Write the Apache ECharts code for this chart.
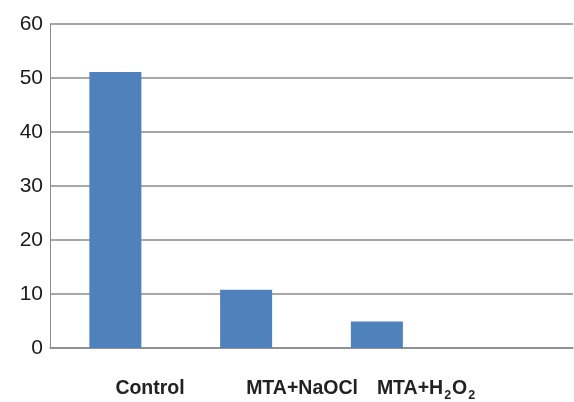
<!DOCTYPE html>
<html>
<head>
<meta charset="utf-8">
<script src="https://cdn.jsdelivr.net/npm/echarts@6/dist/echarts.min.js"></script>
<style>
html,body{margin:0;padding:0;background:#fff;}
#c{width:574px;height:402px;}
</style>
</head>
<body>
<div id="c"></div>
<script>
var categories = ['Control', 'MTA+NaOCl', 'MTA+H2O2', ''];
var values = [51.1, 10.8, 4.9, null];
var yTicks = [0, 10, 20, 30, 40, 50, 60];

var chart = echarts.init(document.getElementById('c'));
chart.setOption({
  animation: false,
  backgroundColor: '#ffffff',
  grid: { left: 50, right: 1, top: 24, bottom: 54, containLabel: false },
  xAxis: {
    type: 'category',
    data: categories,
    axisLine: { show: true, lineStyle: { color: '#8a8a8a', width: 1.5 } },
    axisTick: { show: false },
    splitLine: { show: false },
    axisLabel: {
      interval: 0,
      margin: 28,
      align: 'left',
      formatter: function (v) {
        if (v === 'MTA+H2O2') return '{b|MTA+H}{s|2}{b|O}{s|2}';
        return '{b|' + v + '}';
      },
      rich: {
        b: { fontFamily: 'Liberation Sans', fontWeight: 'bold', fontSize: 19.5, color: '#222222', lineHeight: 26, verticalAlign: 'middle' },
        s: { fontFamily: 'Liberation Sans', fontWeight: 'bold', fontSize: 12.5, color: '#222222', lineHeight: 12, verticalAlign: 'bottom', padding: [0, 1, 0, 1] }
      }
    }
  },
  yAxis: {
    type: 'value',
    min: yTicks[0],
    max: yTicks[yTicks.length - 1],
    interval: 10,
    axisLine: { show: true, lineStyle: { color: '#8a8a8a', width: 1 } },
    axisTick: { show: false },
    splitLine: { show: true, lineStyle: { color: '#8a8a8a', width: 1.5 } },
    axisLabel: {
      margin: 7,
      fontFamily: 'Liberation Sans Narrow, Liberation Sans, sans-serif',
      fontSize: 21,
      color: '#1a1a1a'
    }
  },
  series: [{
    type: 'bar',
    data: values,
    barWidth: 52,
    itemStyle: { color: '#4f81bd' }
  }]
});
</script>
</body>
</html>
